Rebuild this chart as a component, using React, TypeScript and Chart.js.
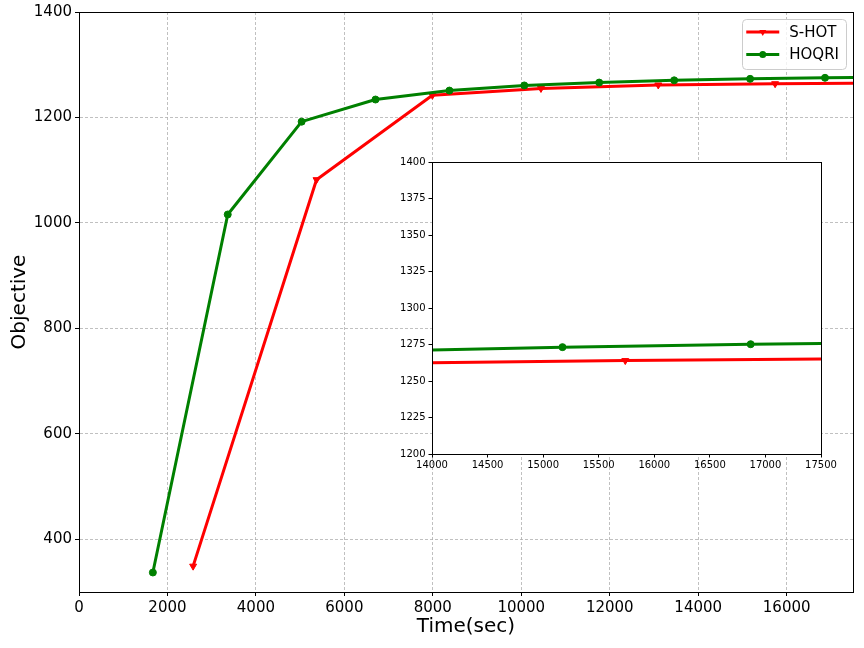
import React, { useEffect, useRef } from "react";
import { Chart, registerables } from "chart.js";

Chart.register(...registerables);

// ---- data ----
const seriesNames = ["S-HOT", "HOQRI"];
const seriesColors = ["#ff0000", "#008000"];
const shotTime = [2580, 5370, 7990, 10445, 13097, 15739, 18380];
const shotObj = [349, 1082, 1242, 1255, 1261.6, 1264.0, 1265.5];
const hoqriTime = [1670, 3363, 5034, 6704, 8375, 10068, 11761, 13457, 15174, 16867, 18560];
const hoqriObj = [337, 1016, 1192, 1234, 1251, 1260.7, 1266.2, 1270.4, 1273.2, 1275.2, 1276.4];
const mainXTicks = [0, 2000, 4000, 6000, 8000, 10000, 12000, 14000, 16000];
const mainYTicks = [400, 600, 800, 1000, 1200, 1400];
const insetXTicks = [14000, 14500, 15000, 15500, 16000, 16500, 17000, 17500];
const insetYTicks = [1200, 1225, 1250, 1275, 1300, 1325, 1350, 1375, 1400];
const xTitle = "Time(sec)";
const yTitle = "Objective";

const FONT = "'DejaVu Sans', sans-serif";

function makeDatasets() {
  const shot = {
    label: seriesNames[0],
    data: shotTime.map((t, i) => ({ x: t, y: shotObj[i] })),
    borderColor: seriesColors[0],
    backgroundColor: seriesColors[0],
    pointBackgroundColor: seriesColors[0],
    pointBorderColor: seriesColors[0],
    borderWidth: 3,
    pointStyle: "triangle",
    rotation: 180,
    pointRadius: 4,
    pointBorderWidth: 1,
    borderJoinStyle: "round" as const,
    tension: 0,
    clip: 0,
    order: 2,
  };
  const hoqri = {
    label: seriesNames[1],
    data: hoqriTime.map((t, i) => ({ x: t, y: hoqriObj[i] })),
    borderColor: seriesColors[1],
    backgroundColor: seriesColors[1],
    pointBackgroundColor: seriesColors[1],
    pointBorderColor: seriesColors[1],
    borderWidth: 3,
    pointStyle: "circle",
    pointRadius: 3.5,
    pointBorderWidth: 1,
    borderJoinStyle: "round" as const,
    tension: 0,
    clip: 0,
    order: 1,
  };
  return [shot, hoqri];
}

const framePlugin = {
  id: "frame",
  beforeDraw(chart: any, _a: any, opts: any) {
    if (!opts || !opts.fill) return;
    const { ctx, chartArea: a } = chart;
    ctx.save();
    ctx.fillStyle = opts.fill;
    ctx.fillRect(a.left, a.top, a.right - a.left, a.bottom - a.top);
    ctx.restore();
  },
  afterDraw(chart: any) {
    const { ctx, chartArea: a } = chart;
    ctx.save();
    ctx.strokeStyle = "#000";
    ctx.lineWidth = 1;
    ctx.strokeRect(Math.round(a.left) + 0.5, Math.round(a.top) + 0.5, Math.round(a.right - a.left), Math.round(a.bottom - a.top));
    ctx.restore();
  },
};

const legendPlugin = {
  id: "boxLegend",
  afterDraw(chart: any) {
    const { ctx, chartArea: a } = chart;
    ctx.save();
    ctx.font = `15px ${FONT}`;
    const maxW = Math.max(...seriesNames.map((n) => ctx.measureText(n).width));
    const boxRight = a.right - 7;
    const boxTop = a.top + 7;
    const boxW = 47 + maxW + 7;
    const boxLeft = boxRight - boxW;
    const boxH = 50;
    ctx.beginPath();
    (ctx as any).roundRect(Math.round(boxLeft) + 0.5, Math.round(boxTop) + 0.5, Math.round(boxW), boxH, 4);
    ctx.fillStyle = "rgba(255,255,255,0.8)";
    ctx.fill();
    ctx.strokeStyle = "#cccccc";
    ctx.lineWidth = 1;
    ctx.stroke();
    const rows = [boxTop + 13, boxTop + 35.5];
    seriesNames.forEach((name, i) => {
      const y = rows[i];
      const color = seriesColors[i];
      ctx.strokeStyle = color;
      ctx.lineWidth = 3;
      ctx.beginPath();
      ctx.moveTo(boxLeft + 4, y);
      ctx.lineTo(boxLeft + 37, y);
      ctx.stroke();
      const cx = boxLeft + 20.5;
      ctx.fillStyle = color;
      ctx.beginPath();
      if (i === 0) {
        ctx.moveTo(cx - 3.5, y - 2);
        ctx.lineTo(cx + 3.5, y - 2);
        ctx.lineTo(cx, y + 4);
        ctx.closePath();
      } else {
        ctx.arc(cx, y, 3.5, 0, Math.PI * 2);
      }
      ctx.fill();
      ctx.fillStyle = "#000";
      ctx.textBaseline = "middle";
      ctx.textAlign = "left";
      ctx.fillText(name, boxLeft + 47, y + 1);
    });
    ctx.restore();
  },
};

function setTicks(values: number[]) {
  return (scale: any) => {
    scale.ticks = values.map((v) => ({ value: v }));
  };
}

export default function App() {
  const mainRef = useRef<HTMLCanvasElement>(null);
  const insetRef = useRef<HTMLCanvasElement>(null);

  useEffect(() => {
    const mainChart = new Chart(mainRef.current as HTMLCanvasElement, {
      type: "line",
      data: { datasets: makeDatasets() as any },
      plugins: [framePlugin, legendPlugin],
      options: {
        animation: false,
        responsive: false,
        maintainAspectRatio: false,
        devicePixelRatio: 1,
        layout: { padding: { top: 11, right: 11, left: 0, bottom: 0 } },
        plugins: { legend: { display: false }, tooltip: { enabled: false }, title: { display: false } },
        scales: {
          x: {
            type: "linear",
            min: 0,
            max: 17500,
            afterBuildTicks: setTicks(mainXTicks),
            afterFit: (s: any) => { s.height = 56; },
            ticks: {
              autoSkip: false,
              maxRotation: 0,
              color: "#000",
              font: { family: FONT, size: 15 },
              padding: 3,
              callback: (v: any) => String(v),
            },
            grid: { color: "#b0b0b0", lineWidth: 0.8, tickColor: "#000", tickLength: 4, tickWidth: 1, tickBorderDash: [] },
            border: { display: true, color: "#000", width: 1, dash: [3, 2] },
            title: { display: true, text: xTitle, color: "#000", font: { family: FONT, size: 20 }, padding: { top: 0, bottom: 9 } },
          },
          y: {
            type: "linear",
            min: 300,
            max: 1400,
            afterBuildTicks: setTicks(mainYTicks),
            afterFit: (s: any) => { s.width = 79; },
            ticks: {
              color: "#000",
              font: { family: FONT, size: 15 },
              padding: 3,
              callback: (v: any) => String(v),
            },
            grid: { color: "#b0b0b0", lineWidth: 0.8, tickColor: "#000", tickLength: 4, tickWidth: 1, tickBorderDash: [] },
            border: { display: true, color: "#000", width: 1, dash: [3, 2] },
            title: { display: true, text: yTitle, color: "#000", font: { family: FONT, size: 20 }, padding: { top: 8, bottom: 0 } },
          },
        },
      } as any,
    });

    const insetChart = new Chart(insetRef.current as HTMLCanvasElement, {
      type: "line",
      data: { datasets: makeDatasets() as any },
      plugins: [framePlugin],
      options: {
        animation: false,
        responsive: false,
        maintainAspectRatio: false,
        devicePixelRatio: 1,
        layout: { padding: { top: 12, right: 19, left: 0, bottom: 0 } },
        plugins: { legend: { display: false }, tooltip: { enabled: false }, frame: { fill: "#ffffff" } },
        scales: {
          x: {
            type: "linear",
            min: 14000,
            max: 17500,
            afterBuildTicks: setTicks(insetXTicks),
            afterFit: (s: any) => { s.height = 26; },
            ticks: {
              autoSkip: false,
              maxRotation: 0,
              color: "#000",
              font: { family: FONT, size: 10 },
              padding: 2,
              callback: (v: any) => String(v),
            },
            grid: { drawOnChartArea: false, drawTicks: true, tickColor: "#000", tickLength: 3.5, tickWidth: 1 },
            border: { display: true, color: "#000", width: 1 },
          },
          y: {
            type: "linear",
            min: 1200,
            max: 1400,
            afterBuildTicks: setTicks(insetYTicks),
            afterFit: (s: any) => { s.width = 32; },
            ticks: {
              color: "#000",
              font: { family: FONT, size: 10 },
              padding: 3,
              callback: (v: any) => String(v),
            },
            grid: { drawOnChartArea: false, drawTicks: true, tickColor: "#000", tickLength: 3.5, tickWidth: 1 },
            border: { display: true, color: "#000", width: 1 },
          },
        },
      } as any,
    });

    return () => {
      mainChart.destroy();
      insetChart.destroy();
    };
  }, []);

  return (
    <div style={{ position: "fixed", left: 0, top: 0, width: 864, height: 648, background: "#fff" }}>
      <canvas ref={mainRef} width={864} height={648} style={{ position: "absolute", left: 0, top: 0, width: 864, height: 648 }} />
      <canvas ref={insetRef} width={440} height={330} style={{ position: "absolute", left: 400, top: 150, width: 440, height: 330 }} />
    </div>
  );
}
